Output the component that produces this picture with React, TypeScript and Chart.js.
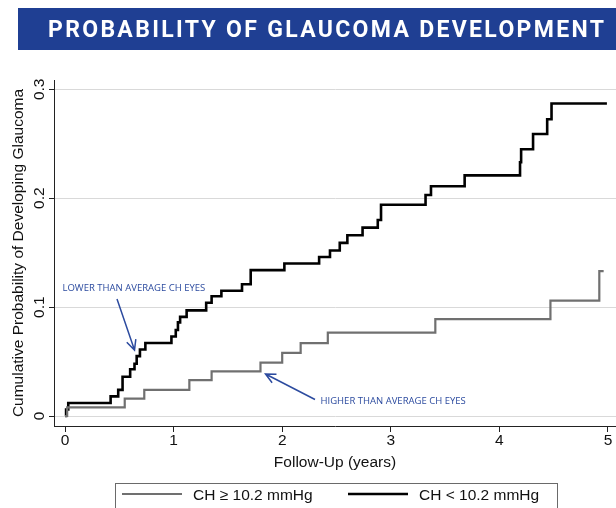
import React, { useEffect, useRef } from 'react';
import { Chart, registerables } from 'chart.js';

Chart.register(...registerables);

const TITLE = 'PROBABILITY OF GLAUCOMA DEVELOPMENT';
const X_TITLE = 'Follow-Up (years)';
const Y_TITLE = 'Cumulative Probability of Developing Glaucoma';
const X_TICKS = [0, 1, 2, 3, 4, 5];
const X_TICK_LABELS = ['0', '1', '2', '3', '4', '5'];
const Y_TICKS = [0, 0.1, 0.2, 0.3];
const Y_TICK_LABELS = ['0', '0.1', '0.2', '0.3'];

const HIGH_LABEL = 'CH \u2265 10.2 mmHg';
const LOW_LABEL = 'CH < 10.2 mmHg';
const LOW_NOTE = 'LOWER THAN AVERAGE CH EYES';
const HIGH_NOTE = 'HIGHER THAN AVERAGE CH EYES';

// CH < 10.2 mmHg (black)
const LOW_TIMES = [0, 0.01, 0.03, 0.42, 0.49, 0.53, 0.6, 0.64, 0.66, 0.69, 0.74, 0.98, 1.02, 1.04, 1.06, 1.12, 1.3, 1.35, 1.44, 1.63, 1.71, 2.02, 2.34, 2.44, 2.53, 2.6, 2.74, 2.88, 2.91, 3.32, 3.37, 3.68, 4.19, 4.2, 4.31, 4.44, 4.48, 4.99];
const LOW_VALUES = [0, 0.006, 0.012, 0.018, 0.024, 0.036, 0.043, 0.048, 0.055, 0.061, 0.067, 0.073, 0.079, 0.086, 0.091, 0.097, 0.104, 0.11, 0.115, 0.121, 0.134, 0.14, 0.146, 0.152, 0.159, 0.166, 0.173, 0.18, 0.194, 0.203, 0.211, 0.221, 0.233, 0.245, 0.259, 0.2725, 0.287, 0.287];

// CH >= 10.2 mmHg (gray)
const HIGH_TIMES = [0, 0.02, 0.55, 0.73, 1.145, 1.35, 1.8, 2.0, 2.17, 2.42, 3.41, 4.47, 4.92, 4.96];
const HIGH_VALUES = [0, 0.008, 0.016, 0.024, 0.033, 0.041, 0.049, 0.058, 0.067, 0.0765, 0.089, 0.106, 0.133, 0.133];

const BANNER_BG = '#1f3f93';
const NOTE_BLUE = '#2c4b9f';
const FONT = '"Liberation Sans", Arial, sans-serif';

function drawArrow(ctx: CanvasRenderingContext2D, x1: number, y1: number, x2: number, y2: number) {
  const ang = Math.atan2(y2 - y1, x2 - x1);
  const len = 11;
  const spread = 0.45;
  ctx.beginPath();
  ctx.moveTo(x1, y1);
  ctx.lineTo(x2, y2);
  ctx.moveTo(x2 - len * Math.cos(ang - spread), y2 - len * Math.sin(ang - spread));
  ctx.lineTo(x2, y2);
  ctx.lineTo(x2 - len * Math.cos(ang + spread), y2 - len * Math.sin(ang + spread));
  ctx.stroke();
}

const overlayPlugin = {
  id: 'overlay',
  afterDraw(chart: any) {
    const ctx: CanvasRenderingContext2D = chart.ctx;
    const xs = chart.scales.x;
    const ys = chart.scales.y;
    const area = chart.chartArea;
    ctx.save();

    // banner
    ctx.fillStyle = BANNER_BG;
    ctx.fillRect(18, 8, 598, 42);
    ctx.font = 'bold 23px Roboto, "DejaVu Sans", sans-serif';
    (ctx as any).letterSpacing = '0px';
    const w0 = ctx.measureText(TITLE).width;
    const sp = (556 - w0) / (TITLE.length - 1);
    (ctx as any).letterSpacing = sp.toFixed(2) + 'px';
    ctx.fillStyle = '#ffffff';
    ctx.textAlign = 'left';
    ctx.textBaseline = 'alphabetic';
    ctx.fillText(TITLE, 48, 37);
    (ctx as any).letterSpacing = '0px';

    // x tick labels
    ctx.fillStyle = '#111';
    ctx.font = '15.5px ' + FONT;
    ctx.textAlign = 'center';
    X_TICKS.forEach((v, i) => {
      ctx.fillText(X_TICK_LABELS[i], xs.getPixelForValue(v), 445);
    });
    // x title
    ctx.fillText(X_TITLE, (area.left + area.right) / 2, 467);

    // y tick labels (rotated)
    Y_TICKS.forEach((v, i) => {
      ctx.save();
      ctx.translate(43.5, ys.getPixelForValue(v));
      ctx.rotate(-Math.PI / 2);
      ctx.textAlign = 'center';
      ctx.fillText(Y_TICK_LABELS[i], 0, 0);
      ctx.restore();
    });
    // y title
    ctx.save();
    ctx.translate(22.8, (area.top + area.bottom) / 2);
    ctx.rotate(-Math.PI / 2);
    ctx.textAlign = 'center';
    ctx.fillText(Y_TITLE, 0, 0);
    ctx.restore();

    // annotations
    ctx.fillStyle = NOTE_BLUE;
    ctx.font = '9px "Open Sans", sans-serif';
    const nw = ctx.measureText(LOW_NOTE).width;
    const fs = (9 * 143) / nw;
    ctx.font = fs.toFixed(2) + 'px "Open Sans", sans-serif';
    ctx.textAlign = 'left';
    ctx.fillText(LOW_NOTE, 62.5, 291);
    ctx.fillText(HIGH_NOTE, 320.5, 403.5);
    ctx.strokeStyle = NOTE_BLUE;
    ctx.lineWidth = 1.5;
    drawArrow(ctx, 117, 299, 134.5, 350);
    drawArrow(ctx, 315, 399.5, 265.5, 374);

    // legend
    ctx.strokeStyle = '#6a6a6a';
    ctx.lineWidth = 1;
    ctx.strokeRect(115.5, 483.5, 442, 40);
    ctx.lineWidth = 2.2;
    ctx.strokeStyle = '#707070';
    ctx.beginPath();
    ctx.moveTo(122, 494);
    ctx.lineTo(182, 494);
    ctx.stroke();
    ctx.lineWidth = 2.6;
    ctx.strokeStyle = '#000';
    ctx.beginPath();
    ctx.moveTo(348, 494);
    ctx.lineTo(408, 494);
    ctx.stroke();
    ctx.fillStyle = '#111';
    ctx.font = '15.5px ' + FONT;
    ctx.textAlign = 'left';
    ctx.fillText(HIGH_LABEL, 193, 500);
    ctx.fillText(LOW_LABEL, 419, 500);

    ctx.restore();
  },
};

export default function App() {
  const ref = useRef<HTMLCanvasElement | null>(null);

  useEffect(() => {
    if (!ref.current) return;
    const low = LOW_TIMES.map((t, i) => ({ x: t, y: LOW_VALUES[i] }));
    const high = HIGH_TIMES.map((t, i) => ({ x: t, y: HIGH_VALUES[i] }));
    const chart = new Chart(ref.current, {
      type: 'line',
      data: {
        datasets: [
          {
            label: HIGH_LABEL,
            data: high,
            borderColor: '#707070',
            borderWidth: 2.2,
            pointRadius: 0,
            stepped: 'before',
            fill: false,
          },
          {
            label: LOW_LABEL,
            data: low,
            borderColor: '#000000',
            borderWidth: 2.6,
            pointRadius: 0,
            stepped: 'before',
            fill: false,
          },
        ],
      },
      options: {
        responsive: false,
        animation: false,
        events: [],
        layout: { padding: { top: 80, left: 0, right: 0, bottom: 32 } },
        plugins: { legend: { display: false }, tooltip: { enabled: false }, title: { display: false } },
        scales: {
          x: {
            type: 'linear',
            min: -0.1013,
            max: 5.0737,
            afterBuildTicks: (s: any) => {
              s.ticks = X_TICKS.map((v) => ({ value: v }));
            },
            afterFit: (s: any) => {
              s.height = 50;
            },
            ticks: { display: false },
            grid: { drawOnChartArea: false, drawTicks: true, tickLength: 6, tickColor: '#222', lineWidth: 1 },
            border: { display: true, color: '#222', width: 1 },
          },
          y: {
            type: 'linear',
            min: -0.00918,
            max: 0.30854,
            afterBuildTicks: (s: any) => {
              s.ticks = Y_TICKS.map((v) => ({ value: v }));
            },
            afterFit: (s: any) => {
              s.width = 54;
            },
            ticks: { display: false },
            grid: { color: '#d9d9d9', lineWidth: 1, drawTicks: true, tickLength: 5, tickColor: '#222' },
            border: { display: true, color: '#222', width: 1 },
          },
        },
      },
      plugins: [overlayPlugin],
    });
    return () => chart.destroy();
  }, []);

  return (
    <div style={{ position: 'fixed', left: 0, top: 0, width: 616, height: 508, background: '#fff', overflow: 'hidden' }}>
      <canvas ref={ref} width={616} height={508} style={{ display: 'block', width: 616, height: 508 }} />
    </div>
  );
}
